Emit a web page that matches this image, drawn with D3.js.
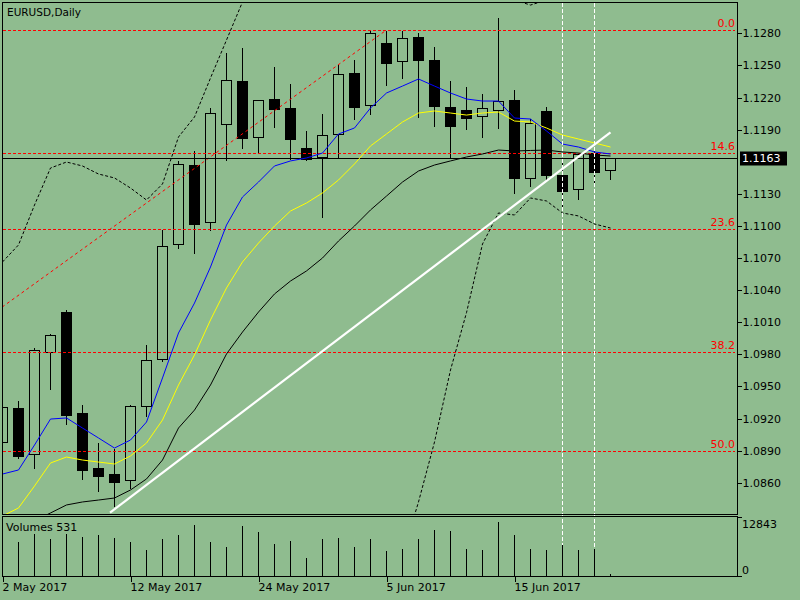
<!DOCTYPE html>
<html>
<head>
<meta charset="utf-8">
<script src="https://cdn.jsdelivr.net/npm/d3@7"></script>
<style>
  body { margin: 0; background: #8fbc8f; }
  svg { display: block; font-family: "DejaVu Sans", sans-serif; font-size: 11px; }
</style>
</head>
<body>
<div id="chart"></div>
<script>
// EURUSD daily candles, bar 0 = 2 May 2017
const opens  = [1.08978,1.09298,1.08865,1.09824,1.10195,1.09249,1.08737,1.08681,1.08622,1.09314,
                1.09753,1.10828,1.11569,1.11034,1.11950,1.12354,1.11828,1.12183,1.12099,1.11725,
                1.11641,1.11856,1.12429,1.12127,1.12709,1.12538,1.12765,1.12550,1.12111,1.12083,
                1.12024,1.12086,1.12177,1.11445,1.12071,1.11476,1.11342,1.11679,1.11520];
const highs  = [1.09340,1.09373,1.09865,1.10002,1.10223,1.09336,1.08983,1.08927,1.09333,1.09893,
                1.10968,1.11616,1.11709,1.12108,1.12622,1.12669,1.12183,1.12494,1.12333,1.11896,
                1.12052,1.12513,1.12557,1.12840,1.12831,1.12831,1.12812,1.12681,1.12364,1.12307,
                1.12242,1.12955,1.12279,1.12006,1.12121,1.11647,1.11684,1.11747,1.11647];
const lows   = [1.08900,1.08828,1.08740,1.09476,1.09151,1.08637,1.08525,1.08382,1.08553,1.09223,
                1.09737,1.10796,1.10750,1.10962,1.11613,1.11731,1.11679,1.11927,1.11622,1.11616,
                1.11086,1.11637,1.12002,1.12043,1.12320,1.12385,1.12021,1.11936,1.11647,1.11906,
                1.11834,1.11918,1.11310,1.11373,1.11441,1.11179,1.11254,1.11373,1.11441];
const closes = [1.09305,1.08852,1.09837,1.09978,1.09233,1.08721,1.08665,1.08609,1.09314,1.09744,
                1.10815,1.11576,1.11021,1.12052,1.12361,1.11819,1.12174,1.12090,1.11809,1.11622,
                1.11847,1.12417,1.12114,1.12800,1.12525,1.12753,1.12553,1.12123,1.11936,1.12011,
                1.12099,1.12167,1.11450,1.11959,1.11479,1.11329,1.11672,1.11507,1.11630];
const volumes = [7000,7400,9140,8050,9140,8490,8930,8270,7400,5660,
                 8050,8930,11100,7400,6310,10880,9580,6970,7620,3920,
                 8050,8270,6310,8050,5440,5880,8050,10010,9800,5880,
                 5660,11760,8930,5880,5660,6750,5660,5880,531];

// moving averages (blue, yellow, black) and bollinger bands
const maFast = [1.08681,1.08719,1.08952,1.09195,1.09205,1.09111,1.09018,1.08924,1.08999,1.09167,
                1.09579,1.09999,1.10279,1.10616,1.11008,1.11270,1.11410,1.11560,1.11607,1.11635,
                1.11681,1.11859,1.11915,1.12102,1.12242,1.12307,1.12373,1.12307,1.12242,1.12186,
                1.12167,1.12167,1.12008,1.11999,1.11887,1.11765,1.11737,1.11691,1.11672];
const maMid  = [1.08289,1.08364,1.08569,1.08784,1.08840,1.08812,1.08793,1.08775,1.08850,1.08971,
                1.09186,1.09513,1.09794,1.10121,1.10420,1.10663,1.10840,1.10999,1.11139,1.11214,
                1.11308,1.11429,1.11579,1.11747,1.11859,1.11971,1.12055,1.12074,1.12055,1.12036,
                1.12055,1.12064,1.11980,1.11971,1.11915,1.11849,1.11812,1.11775,1.11737];
const maSlow = [null,null,1.08244,1.08317,1.08392,1.08420,1.08438,1.08457,1.08532,1.08635,
                1.08812,1.09111,1.09279,1.09513,1.09803,1.10008,1.10195,1.10364,1.10485,1.10579,
                1.10700,1.10859,1.10999,1.11149,1.11279,1.11410,1.11513,1.11569,1.11607,1.11644,
                1.11672,1.11709,1.11700,1.11705,1.11709,1.11691,1.11681,1.11663,1.11653];
const bbUpper = [1.10663,1.10822,1.11195,1.11541,1.11597,1.11560,1.11485,1.11448,1.11354,1.11242,
                 1.11392,1.11831,1.12018,1.12382,1.12737,1.13093,1.13448,null,null,null,
                 null,null,null,null,null,null,null,null,null,null,
                 null,1.13392,1.13111,1.13064,1.13111,1.13392,null,null,null];
const bbLower = [null,null,null,null,null,null,null,null,null,null,
                 null,null,null,null,null,null,null,null,null,null,
                 null,null,null,null,null,1.07924,1.08420,1.08980,1.09653,1.10189,
                 1.10831,1.11121,1.11102,1.11261,1.11233,1.11121,1.11093,1.11018,1.10980];

// 1.1160 sits under the current price label, so it is left out
const priceTicks = [1.0860,1.0890,1.0920,1.0950,1.0980,1.1010,1.1040,1.1070,1.1100,1.1130,1.1190,1.1220,1.1250,1.1280];
const dateTickIdx = [0, 8, 16, 24, 32];
const dateLabels = ["2 May 2017", "12 May 2017", "24 May 2017", "5 Jun 2017", "15 Jun 2017"];

const bid = 1.1163;
const volMax = 12843;
const fibLevels = [0, 14.6, 23.6, 38.2, 50];
const fibHigh = [24, 1.12831];
const fibLow = [-49, 1.04962];
const trendLine = [[6.72, 1.08320], [38, 1.11875]];
const vLines = [35, 37];

const bg = "#8fbc8f";
const W = 800, H = 600;
const left = 2.5, right = 737.5, mainTop = 2.5, mainBottom = 514.5;
const volTop = 516.5, volBottom = 576.5;

const x = d3.scaleLinear().domain([0, 38]).range([2.5, 610.5]);
const y = d3.scaleLinear().domain([1.083075, 1.13086]).range([514, 2.7]);
const yv = d3.scaleLinear().domain([0, volMax]).range([576, 517]);
const py = p => Math.round(y(p)) + 0.5;

const svg = d3.select("#chart").append("svg")
    .attr("width", W).attr("height", H);

svg.append("rect").attr("width", W).attr("height", H).attr("fill", bg);

svg.append("clipPath").attr("id", "clipMain")
  .append("rect").attr("x", left).attr("y", mainTop)
    .attr("width", right - left).attr("height", mainBottom - mainTop);

const g = svg.append("g").attr("clip-path", "url(#clipMain)");

// vertical dashed lines (behind everything)
svg.selectAll("line.vline").data(vLines).enter().append("line")
    .attr("class", "vline")
    .attr("x1", d => x(d)).attr("x2", d => x(d))
    .attr("y1", mainTop).attr("y2", volBottom)
    .attr("stroke", "#fff").attr("stroke-dasharray", "4,2")
    .attr("shape-rendering", "crispEdges");

// candles
const bars = d3.range(opens.length);
const cg = g.append("g").attr("shape-rendering", "crispEdges");
cg.selectAll("line.wick").data(bars).enter().append("line")
    .attr("x1", i => x(i)).attr("x2", i => x(i))
    .attr("y1", i => py(highs[i])).attr("y2", i => py(lows[i]))
    .attr("stroke", "#000");
cg.selectAll("rect.body").data(bars).enter().append("rect")
    .attr("x", i => x(i) - 5)
    .attr("y", i => py(Math.max(opens[i], closes[i])))
    .attr("width", 10)
    .attr("height", i => Math.max(1, py(Math.min(opens[i], closes[i])) - py(Math.max(opens[i], closes[i]))))
    .attr("fill", i => closes[i] < opens[i] ? "#000" : bg)
    .attr("stroke", "#000");

// fibonacci levels
const fibRange = fibHigh[1] - fibLow[1];
const fibPrice = l => fibHigh[1] - l / 100 * fibRange;
g.selectAll("line.fib").data(fibLevels).enter().append("line")
    .attr("x1", left).attr("x2", 735)
    .attr("y1", d => py(fibPrice(d))).attr("y2", d => py(fibPrice(d)))
    .attr("stroke", "#ff0000").attr("stroke-dasharray", "3,2")
    .attr("shape-rendering", "crispEdges");
g.selectAll("text.fib").data(fibLevels).enter().append("text")
    .attr("x", 735).attr("y", d => py(fibPrice(d)) - 3.5)
    .attr("text-anchor", "end").attr("fill", "#ff0000")
    .text(d => d.toFixed(1));

g.append("line")
    .attr("x1", x(fibLow[0])).attr("y1", y(fibLow[1]))
    .attr("x2", x(fibHigh[0])).attr("y2", y(fibHigh[1]))
    .attr("stroke", "#ff0000").attr("stroke-dasharray", "3,3");

// bid line
g.append("line")
    .attr("x1", left).attr("x2", right)
    .attr("y1", py(bid)).attr("y2", py(bid))
    .attr("stroke", "#000").attr("shape-rendering", "crispEdges");

// indicators
const line = d3.line()
    .defined(d => d != null)
    .x((d, i) => x(i))
    .y(d => y(d));

[[maSlow, "#000", null], [maMid, "#ffff00", null], [maFast, "#0000ff", null],
 [bbUpper, "#000", "3,2"], [bbLower, "#000", "3,2"]].forEach(([data, color, dash]) => {
    g.append("path")
        .datum(data)
        .attr("d", line)
        .attr("fill", "none")
        .attr("stroke", color)
        .attr("stroke-width", 1)
        .attr("stroke-dasharray", dash);
});

// trend line
g.append("line")
    .attr("x1", x(trendLine[0][0])).attr("y1", y(trendLine[0][1]))
    .attr("x2", x(trendLine[1][0])).attr("y2", y(trendLine[1][1]))
    .attr("stroke", "#fff").attr("stroke-width", 2.2);

// frames
svg.append("rect")
    .attr("x", left).attr("y", mainTop)
    .attr("width", right - left).attr("height", mainBottom - mainTop)
    .attr("fill", "none").attr("stroke", "#000").attr("shape-rendering", "crispEdges");
svg.append("rect")
    .attr("x", left).attr("y", volTop)
    .attr("width", right - left).attr("height", volBottom - volTop)
    .attr("fill", "none").attr("stroke", "#000").attr("shape-rendering", "crispEdges");

svg.append("text").attr("x", 7).attr("y", 16)
    .style("font-size", "10.5px")
    .text("EURUSD,Daily");

// price axis
const yAxis = d3.axisRight(y)
    .tickValues(priceTicks)
    .tickSize(4)
    .tickPadding(1)
    .tickFormat(d3.format(".4f"));
const ya = svg.append("g")
    .attr("transform", `translate(${right},0)`)
    .attr("shape-rendering", "crispEdges")
    .call(yAxis);
ya.select(".domain").remove();
ya.selectAll("text").style("font-family", "DejaVu Sans").style("font-size", "11px").attr("fill", "#000");

// current price label
svg.append("rect")
    .attr("x", 740).attr("y", py(bid) - 7)
    .attr("width", 47).attr("height", 14)
    .attr("fill", "#000");
svg.append("text")
    .attr("x", 742).attr("y", py(bid)).attr("dy", "0.35em")
    .attr("fill", "#fff")
    .text(bid.toFixed(4));

// volumes
svg.append("g").attr("shape-rendering", "crispEdges")
  .selectAll("line").data(bars).enter().append("line")
    .attr("x1", i => x(i)).attr("x2", i => x(i))
    .attr("y1", yv(0)).attr("y2", i => Math.round(yv(volumes[i])))
    .attr("stroke", "#000");

svg.append("text").attr("x", 6).attr("y", 531)
    .text("Volumes " + volumes[volumes.length - 1]);

[[volMax, 528], [0, 574]].forEach(([v, ty]) => {
    svg.append("line")
        .attr("x1", right).attr("x2", right + 4)
        .attr("y1", Math.round(yv(v)) + 0.5).attr("y2", Math.round(yv(v)) + 0.5)
        .attr("stroke", "#000").attr("shape-rendering", "crispEdges");
    svg.append("text").attr("x", 742).attr("y", ty).text(v);
});

// date axis
const xAxis = d3.axisBottom(x)
    .tickValues(dateTickIdx)
    .tickSize(5)
    .tickPadding(2)
    .tickFormat((d, k) => dateLabels[k]);
const xa = svg.append("g")
    .attr("transform", `translate(0,${volBottom})`)
    .attr("shape-rendering", "crispEdges")
    .call(xAxis);
xa.select(".domain").remove();
xa.selectAll("text")
    .attr("text-anchor", "start")
    .attr("x", -0.5)
    .style("font-family", "DejaVu Sans").style("font-size", "11px").attr("fill", "#000");
</script>
</body>
</html>
